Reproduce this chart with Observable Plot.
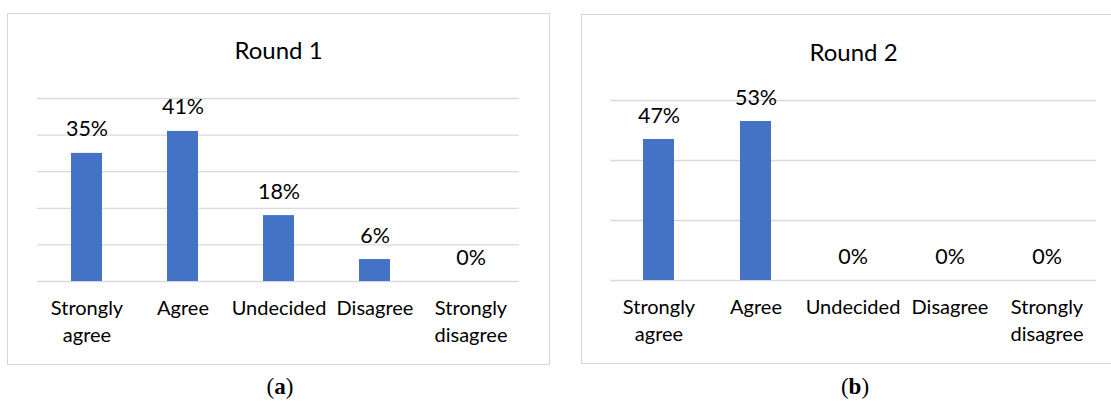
<!DOCTYPE html>
<html><head><meta charset="utf-8">
<script src="https://cdn.jsdelivr.net/npm/d3@7"></script>
<script src="https://cdn.jsdelivr.net/npm/@observablehq/plot@0.6"></script>
<style>
body{margin:0;background:#fff}
#page{position:relative;width:1111px;height:401px;overflow:hidden;background:#fff}
.panel{position:absolute;border:1px solid #d6d6d6;box-sizing:border-box}
.plot-holder{position:absolute;top:0}
.plot-holder svg{max-width:none}
.cap{position:absolute;font-family:"Liberation Serif",serif;font-size:23px;line-height:20px;width:100px;text-align:center;color:#000}
</style></head><body>
<div id="page">
 <div class="panel" style="left:7px;top:13px;width:543px;height:352px"></div>
 <div class="panel" style="left:581px;top:14px;width:540px;height:350px"></div>
 <div id="p1" class="plot-holder" style="left:0px"></div>
 <div id="p2" class="plot-holder" style="left:570px"></div>
 <div class="cap" style="left:230px;top:377px">(<b>a</b>)</div>
 <div class="cap" style="left:805px;top:377px">(<b>b</b>)</div>
</div>
<script>
const categories = ["Strongly\nagree", "Agree", "Undecided", "Disagree", "Strongly\ndisagree"];
const round1Values = [0.35, 0.41, 0.18, 0.06, 0];
const round2Values = [0.47, 0.53, 0, 0, 0];
const round1Ticks = [0, 0.1, 0.2, 0.3, 0.4, 0.5];
const round2Ticks = [0, 0.2, 0.4, 0.6];
const titles = ["Round 1", "Round 2"];

const FONT = "Lato, 'Open Sans', sans-serif";
const BAR = "#4472C4";
const GRID = "#d9d9d9";

function makeChart(values, ticks, title, dims) {
  const data = categories.map((c, i) => ({cat: c, value: values[i]}));
  return Plot.plot({
    width: dims.width,
    height: dims.height,
    marginLeft: dims.ml,
    marginRight: dims.mr,
    marginTop: dims.mt,
    marginBottom: dims.mb,
    style: {fontFamily: FONT, color: "#000", background: "transparent", overflow: "visible"},
    x: {domain: categories, paddingInner: 0.68, paddingOuter: 0.34},
    y: {domain: [0, ticks[ticks.length - 1]], axis: null},
    marks: [
      Plot.ruleY(ticks, {stroke: GRID, strokeWidth: 1.3}),
      Plot.barY(data, {x: "cat", y: "value", fill: BAR}),
      Plot.text(data, {x: "cat", y: "value", text: d => Math.round(d.value * 100) + "%", dy: -17, lineAnchor: "bottom", fontSize: 21.5, fill: "#000"}),
      Plot.axisX({tickSize: 0, tickPadding: 15, fontSize: 20, lineHeight: 1.33, label: null, fill: "#000"}),
      Plot.text([title], {frameAnchor: "top", dy: -40, lineAnchor: "bottom", fontSize: 24, fill: "#000"})
    ]
  });
}

document.getElementById("p1").appendChild(
  makeChart(round1Values, round1Ticks, titles[0], {width: 560, height: 375, ml: 37, mr: 41, mt: 98, mb: 94})
);
document.getElementById("p2").appendChild(
  makeChart(round2Values, round2Ticks, titles[1], {width: 541, height: 375, ml: 40, mr: 15, mt: 100, mb: 95})
);
</script>
</body></html>
